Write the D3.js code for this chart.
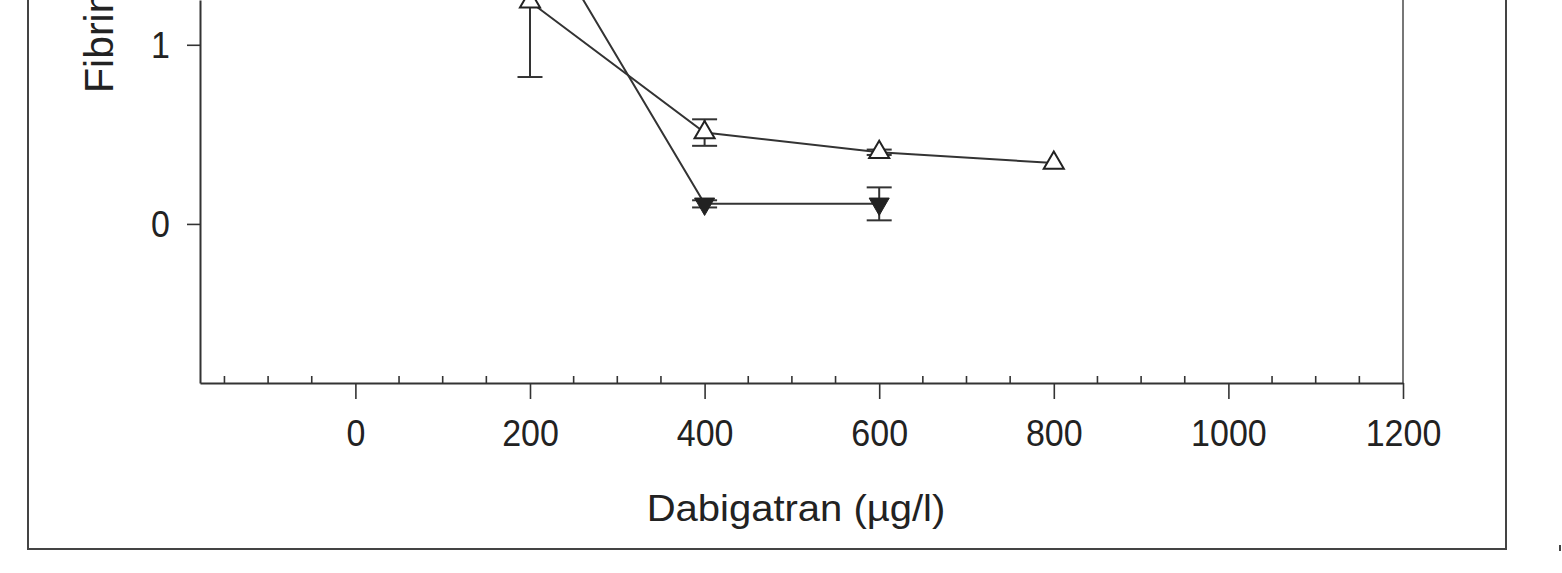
<!DOCTYPE html>
<html>
<head>
<meta charset="utf-8">
<script src="https://cdn.jsdelivr.net/npm/d3@7"></script>
<style>
    body { margin: 0; background: #fff; }
    text { font-family: "Liberation Sans", Arial, sans-serif; fill: #222; }
</style>
</head>
<body>
<svg id="chart"></svg>
<script>
// Values
const openDose = [200, 400, 600, 800];
const openMean = [1.24, 0.51, 0.40, 0.34];
const openErr = [0.42, 0.074, 0.015, 0];

const filledDose = [200, 400, 600];
const filledMean = [1.75, 0.112, 0.112];
const filledErr = [0.2, 0.02, 0.092];

const xMajorTicks = [0, 200, 400, 600, 800, 1000, 1200];
const xMinorTicks = [-150, -100, -50, 50, 100, 150, 250, 300, 350, 450, 500, 550, 650, 700, 750, 850, 900, 950, 1050, 1100, 1150];
const yTicks = [0, 1];

const xTitle = "Dabigatran (µg/l)";
const yTitle = "Fibrinogen (g/l)";

const width = 1562, height = 573;
const plot = {left: 200, right: 1403, top: 0, bottom: 383};

const svg = d3.select("#chart")
    .attr("width", width)
    .attr("height", height);

const xScale = d3.scaleLinear().domain([-178, 1200]).range([plot.left, plot.right]);
const yScale = d3.scaleLinear().domain([-0.888, 1.25]).range([plot.bottom, plot.top]);

//Outer frame round the whole figure (top is cut off)
svg.append("path")
    .attr("d", `M28,-5 V549 H1506 V-5`)
    .attr("fill", "none")
    .attr("stroke", "#444")
    .attr("stroke-width", 2);
svg.append("line")
    .attr("x1", 1560).attr("x2", 1560).attr("y1", 545).attr("y2", 551)
    .attr("stroke", "#444").attr("stroke-width", 2);

//Right edge of the plot area
svg.append("line")
    .attr("x1", plot.right).attr("x2", plot.right)
    .attr("y1", plot.top - 5).attr("y2", plot.bottom)
    .attr("stroke", "#777")
    .attr("stroke-width", 2);

//x axis with major ticks below and minor ticks inside
const xAxis = svg.append("g")
    .attr("transform", `translate(0,${plot.bottom})`)
    .call(d3.axisBottom(xScale).tickValues(xMajorTicks).tickSize(16).tickSizeOuter(0).tickFormat(d3.format("d")));
xAxis.select(".domain").attr("stroke", "#333").attr("stroke-width", 2);
xAxis.selectAll(".tick line").attr("stroke", "#333").attr("stroke-width", 1.6);
//labels are a touch taller than the font, so stretch them a little
xAxis.selectAll(".tick text")
    .attr("font-size", 34)
    .attr("fill", "#222")
    .attr("y", 0)
    .attr("dy", null)
    .attr("transform", "translate(0,63) scale(1,1.08)");

xAxis.selectAll(".minor")
    .data(xMinorTicks)
    .join("line")
    .attr("class", "minor")
    .attr("x1", d => xScale(d)).attr("x2", d => xScale(d))
    .attr("y1", 0).attr("y2", -7)
    .attr("stroke", "#333")
    .attr("stroke-width", 1.6);

//y axis
const yAxis = svg.append("g")
    .attr("transform", `translate(${plot.left},0)`)
    .call(d3.axisLeft(yScale).tickValues(yTicks).tickSize(13).tickSizeOuter(0).tickFormat(d3.format("d")));
yAxis.select(".domain").attr("stroke", "#333").attr("stroke-width", 2);
yAxis.selectAll(".tick line").attr("stroke", "#333").attr("stroke-width", 1.6);
yAxis.selectAll(".tick text")
    .attr("font-size", 34)
    .attr("fill", "#222")
    .attr("x", 0)
    .attr("y", 0)
    .attr("dy", null)
    .attr("transform", "translate(-30,13) scale(1,1.08)");

//Axis titles
svg.append("text")
    .attr("transform", "translate(796,521) scale(1,0.92)")
    .attr("text-anchor", "middle")
    .attr("font-size", 40)
    .text(xTitle);

svg.append("text")
    .attr("transform", "translate(113,93) rotate(-90)")
    .attr("text-anchor", "start")
    .attr("font-size", 41)
    .text(yTitle);

const openData = openDose.map((d, i) => ({x: d, y: openMean[i], e: openErr[i]}));
const filledData = filledDose.map((d, i) => ({x: d, y: filledMean[i], e: filledErr[i]}));

const line = d3.line()
    .x(d => xScale(d.x))
    .y(d => yScale(d.y));

function drawErrors(data) {
    const g = svg.append("g").attr("stroke", "#333").attr("stroke-width", 2);
    data.filter(d => d.e > 0).forEach(d => {
        const cx = xScale(d.x);
        g.append("line")
            .attr("x1", cx).attr("x2", cx)
            .attr("y1", yScale(d.y - d.e)).attr("y2", yScale(d.y + d.e));
        [d.y - d.e, d.y + d.e].forEach(v => {
            g.append("line")
                .attr("x1", cx - 12.5).attr("x2", cx + 12.5)
                .attr("y1", yScale(v)).attr("y2", yScale(v));
        });
    });
}

drawErrors(openData);
drawErrors(filledData);

svg.append("path")
    .datum(openData)
    .attr("fill", "none")
    .attr("stroke", "#333")
    .attr("stroke-width", 2)
    .attr("d", line);

svg.append("path")
    .datum(filledData)
    .attr("fill", "none")
    .attr("stroke", "#333")
    .attr("stroke-width", 2)
    .attr("d", line);

const tri = d3.symbol().type(d3.symbolTriangle).size(175);

svg.selectAll(".openPt")
    .data(openData)
    .join("path")
    .attr("class", "openPt")
    .attr("transform", d => `translate(${xScale(d.x)},${yScale(d.y)})`)
    .attr("d", tri)
    .attr("fill", "#fff")
    .attr("stroke", "#222")
    .attr("stroke-width", 2);

svg.selectAll(".filledPt")
    .data(filledData)
    .join("path")
    .attr("class", "filledPt")
    .attr("transform", d => `translate(${xScale(d.x)},${yScale(d.y)}) rotate(180)`)
    .attr("d", tri)
    .attr("fill", "#222")
    .attr("stroke", "#222")
    .attr("stroke-width", 1);
</script>
</body>
</html>
